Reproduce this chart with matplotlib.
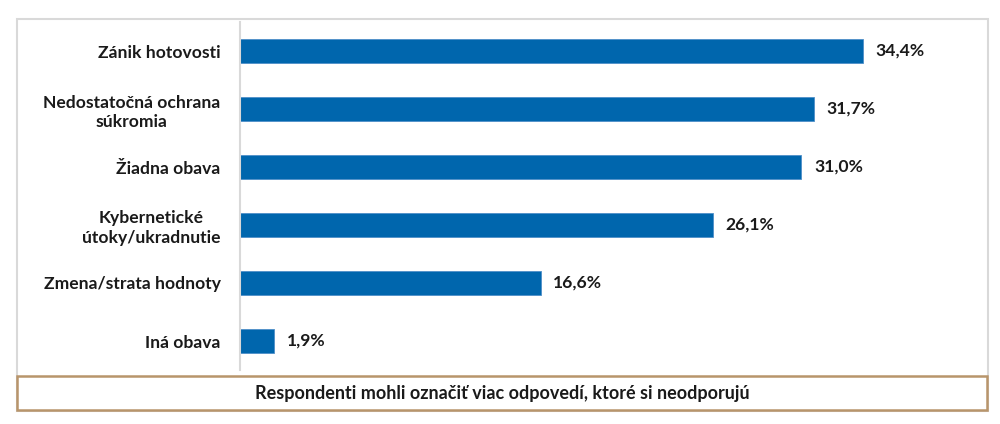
import matplotlib.pyplot as plt
from matplotlib.patches import Rectangle

# data
categories = ["Zánik hotovosti", "Nedostatočná ochrana\nsúkromia", "Žiadna obava",
              "Kybernetické\nútoky/ukradnutie", "Zmena/strata hodnoty", "Iná obava"]
values = [34.4, 31.7, 31.0, 26.1, 16.6, 1.9]
value_labels = ["34,4%", "31,7%", "31,0%", "26,1%", "16,6%", "1,9%"]
note = "Respondenti mohli označiť viac odpovedí, ktoré si neodporujú"

plt.rcParams['font.family'] = ['Lato', 'DejaVu Sans']

W, H = 1000, 424
fig = plt.figure(figsize=(W / 100, H / 100), dpi=100)

# outer gray frame
fig.patches.append(Rectangle((17 / W, 1 - 411 / H), 971 / W, 392 / H,
                             transform=fig.transFigure, fill=False,
                             edgecolor="#d9d9d9", linewidth=1.5))
# footer box
fig.patches.append(Rectangle((17 / W, 1 - 410 / H), 970 / W, 34 / H,
                             transform=fig.transFigure, fill=False,
                             edgecolor="#b8956b", linewidth=1.8))
fig.text(502 / W, 1 - 393 / H, note, ha="center", va="center",
         fontsize=13, fontweight="bold", color="#1a1a1a")

ax = fig.add_axes([240 / W, 1 - 370 / H, 723 / W, 348 / H])
ypos = list(range(len(categories)))
ax.barh(ypos, values, height=0.41, color="#0066ad", edgecolor="#4f8fc9", linewidth=0.6)
ax.set_ylim(len(categories) - 0.5, -0.5)
ax.set_xlim(0, 723 / 18.11)

for y, v, lab in zip(ypos, values, value_labels):
    ax.text(v + 0.7, y, lab, va="center", ha="left", fontsize=12.6,
            fontweight="bold", color="#1a1a1a")

ax.set_yticks(ypos)
ax.set_yticklabels(categories, fontsize=12.6, fontweight="bold", color="#1a1a1a",
                   multialignment="center", linespacing=1.25)
ax.tick_params(axis="y", length=0, pad=14)
ax.set_xticks([])
for s in ["top", "right", "bottom"]:
    ax.spines[s].set_visible(False)
ax.spines["left"].set_color("#d9d9d9")
ax.spines["left"].set_linewidth(1.5)

fig.savefig("out.png", dpi=100)
